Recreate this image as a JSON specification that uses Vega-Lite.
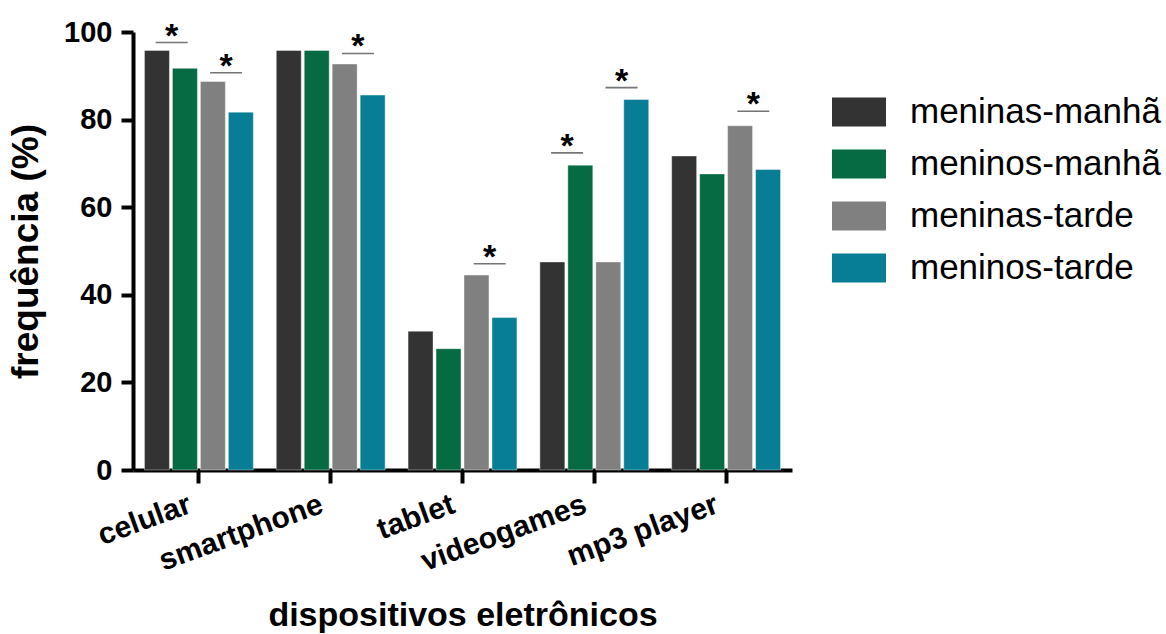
{
  "$schema": "https://vega.github.io/schema/vega-lite/v6.json",
  "width": 659,
  "height": 438,
  "autosize": "none",
  "padding": {"left": 133, "top": 32, "right": 374, "bottom": 164},
  "background": "white",
  "config": {
    "font": "Liberation Sans",
    "view": {"stroke": null},
    "axis": {"grid": false, "domainColor": "black", "tickColor": "black", "labelColor": "black", "titleColor": "black"}
  },
  "datasets": {
    "barras": [
      {"dispositivo": "celular", "serie": "meninas-manhã", "valor": 95.8},
      {"dispositivo": "celular", "serie": "meninos-manhã", "valor": 91.7},
      {"dispositivo": "celular", "serie": "meninas-tarde", "valor": 88.7},
      {"dispositivo": "celular", "serie": "meninos-tarde", "valor": 81.7},
      {"dispositivo": "smartphone", "serie": "meninas-manhã", "valor": 95.8},
      {"dispositivo": "smartphone", "serie": "meninos-manhã", "valor": 95.8},
      {"dispositivo": "smartphone", "serie": "meninas-tarde", "valor": 92.7},
      {"dispositivo": "smartphone", "serie": "meninos-tarde", "valor": 85.6},
      {"dispositivo": "tablet", "serie": "meninas-manhã", "valor": 31.7},
      {"dispositivo": "tablet", "serie": "meninos-manhã", "valor": 27.7},
      {"dispositivo": "tablet", "serie": "meninas-tarde", "valor": 44.5},
      {"dispositivo": "tablet", "serie": "meninos-tarde", "valor": 34.8},
      {"dispositivo": "videogames", "serie": "meninas-manhã", "valor": 47.5},
      {"dispositivo": "videogames", "serie": "meninos-manhã", "valor": 69.6},
      {"dispositivo": "videogames", "serie": "meninas-tarde", "valor": 47.5},
      {"dispositivo": "videogames", "serie": "meninos-tarde", "valor": 84.6},
      {"dispositivo": "mp3 player", "serie": "meninas-manhã", "valor": 71.7},
      {"dispositivo": "mp3 player", "serie": "meninos-manhã", "valor": 67.6},
      {"dispositivo": "mp3 player", "serie": "meninas-tarde", "valor": 78.6},
      {"dispositivo": "mp3 player", "serie": "meninos-tarde", "valor": 68.6}
    ],
    "signif": [
      {"dispositivo": "celular", "par": "1-2", "nivel": 97.6},
      {"dispositivo": "celular", "par": "3-4", "nivel": 90.7},
      {"dispositivo": "smartphone", "par": "3-4", "nivel": 95.1},
      {"dispositivo": "tablet", "par": "3-4", "nivel": 47.1},
      {"dispositivo": "videogames", "par": "1-2", "nivel": 72.4},
      {"dispositivo": "videogames", "par": "3-4", "nivel": 87.3},
      {"dispositivo": "mp3 player", "par": "3-4", "nivel": 81.9}
    ]
  },
  "layer": [
    {
      "data": {"name": "barras"},
      "mark": {"type": "bar", "stroke": "white", "strokeOpacity": 0.4, "strokeWidth": 1},
      "encoding": {
        "x": {
          "field": "dispositivo", "type": "nominal",
          "sort": ["celular", "smartphone", "tablet", "videogames", "mp3 player"],
          "scale": {"paddingInner": 0.174, "paddingOuter": 0.087},
          "title": "dispositivos eletrônicos",
          "axis": {
            "domainWidth": 4, "tickWidth": 4, "tickSize": 13,
            "labelFontSize": 30, "labelFontWeight": "bold", "labelAngle": -20,
            "labelAlign": "right", "labelBaseline": "top", "labelPadding": 6, "labelOffset": -14,
            "titleFontSize": 34, "titleFontWeight": "bold", "titlePadding": 22
          }
        },
        "xOffset": {
          "field": "serie", "type": "nominal",
          "sort": ["meninas-manhã", "meninos-manhã", "meninas-tarde", "meninos-tarde"],
          "scale": {"paddingInner": 0.107, "paddingOuter": 0}
        },
        "y": {
          "field": "valor", "type": "quantitative",
          "scale": {"domain": [0, 100], "nice": false},
          "title": "frequência (%)",
          "axis": {
            "values": [0, 20, 40, 60, 80, 100],
            "domainWidth": 4, "tickWidth": 4, "tickSize": 12,
            "labelFontSize": 29, "labelFontWeight": "bold", "labelPadding": 9,
            "titleFontSize": 37, "titleFontWeight": "bold", "titlePadding": 18
          }
        },
        "color": {
          "field": "serie", "type": "nominal",
          "scale": {
            "domain": ["meninas-manhã", "meninos-manhã", "meninas-tarde", "meninos-tarde"],
            "range": ["#333333", "#066a43", "#808080", "#087e96"]
          },
          "legend": {
            "orient": "none", "legendX": 699, "legendY": 53, "title": null,
            "symbolType": "M-1,-0.537H1V0.537H-1Z", "symbolSize": 2916,
            "symbolStrokeWidth": 0, "symbolOpacity": 1,
            "labelFontSize": 35, "labelOffset": 24, "labelColor": "black",
            "rowPadding": 7, "labelLimit": 400
          }
        }
      }
    },
    {
      "data": {"name": "signif"},
      "mark": {"type": "tick", "orient": "horizontal", "size": 32, "thickness": 1.6, "color": "#3a3a3a"},
      "encoding": {
        "x": {"field": "dispositivo", "type": "nominal", "sort": ["celular", "smartphone", "tablet", "videogames", "mp3 player"]},
        "xOffset": {"field": "par", "type": "nominal", "scale": {"domain": ["1-2", "3-4"], "paddingInner": 0, "paddingOuter": 0}},
        "y": {"field": "nivel", "type": "quantitative"}
      }
    },
    {
      "data": {"name": "signif"},
      "mark": {"type": "text", "text": "*", "fontSize": 34, "fontWeight": "bold", "baseline": "alphabetic", "dy": 4, "color": "black"},
      "encoding": {
        "x": {"field": "dispositivo", "type": "nominal", "sort": ["celular", "smartphone", "tablet", "videogames", "mp3 player"]},
        "xOffset": {"field": "par", "type": "nominal", "scale": {"type": "point", "domain": ["1-2", "3-4"], "padding": 0.5}},
        "y": {"field": "nivel", "type": "quantitative"}
      }
    }
  ],
  "resolve": {"scale": {"xOffset": "independent"}}
}
